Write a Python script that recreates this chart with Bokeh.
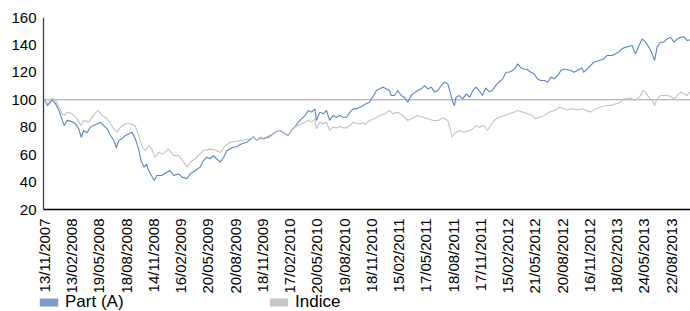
import math
from bokeh.plotting import figure
from bokeh.models import Range1d, Legend, LegendItem, FixedTicker, ColumnDataSource, LinearAxis
from bokeh.core.properties import value
from bokeh.embed import file_html
from bokeh.resources import INLINE

# x tick labels (one every 66 trading days)
tick_labels = ["13/11/2007", "13/02/2008", "19/05/2008", "18/08/2008", "14/11/2008",
               "16/02/2009", "20/05/2009", "20/08/2009", "18/11/2009", "17/02/2010",
               "20/05/2010", "19/08/2010", "18/11/2010", "15/02/2011", "17/05/2011",
               "18/08/2011", "17/11/2011", "15/02/2012", "21/05/2012", "20/08/2012",
               "16/11/2012", "18/02/2013", "24/05/2013", "22/08/2013"]
tick_step = 66

# Part (A): trading-day index and value
part_day = [0, 7, 19, 27, 35, 43, 48, 55, 67, 75, 83, 89, 95, 103, 111, 119, 128, 136, 144, 152,
            160, 168, 174, 180, 188, 196, 204, 212, 220, 228, 234, 241, 247, 253, 266, 272, 284, 296,
            304, 313, 325, 333, 345, 353, 365, 377, 385, 393, 401, 409, 417, 426, 434, 442, 454, 466,
            478, 490, 498, 506, 514, 522, 530, 542, 554, 566, 574, 582, 590, 598, 606, 615, 623, 631,
            639, 647, 655, 659, 667, 675, 683, 691, 699, 707, 715, 724, 732, 740, 748, 756, 764, 772,
            778, 787, 795, 804, 812, 820, 828, 836, 840, 848, 856, 864, 872, 880, 888, 896, 904, 913,
            921, 929, 937, 945, 953, 961, 969, 977, 984, 989, 993, 997, 1005, 1013, 1022, 1030, 1038,
            1045, 1053, 1061, 1069, 1077, 1085, 1093, 1101, 1110, 1118, 1126, 1134, 1142, 1146, 1154,
            1162, 1170, 1178, 1186, 1194, 1202, 1211, 1219, 1227, 1235, 1243, 1251, 1259, 1267, 1275,
            1283, 1291, 1302, 1306, 1315, 1323, 1331, 1343, 1355, 1363, 1375, 1383, 1391, 1399, 1408,
            1416, 1424, 1428, 1432, 1440, 1448, 1456, 1464, 1472, 1478, 1484, 1492, 1500, 1508, 1517,
            1525, 1533, 1541, 1549, 1557, 1563]
part_val = [100, 95.8, 100, 97, 92.2, 85, 81.2, 85, 84, 82.5, 78.8, 72.7, 77.6, 76, 80, 81.2, 82.5,
            83.7, 81, 78.8, 74, 70.3, 65, 70.3, 71.6, 74, 75, 76.4, 71.6, 64.2, 55.7, 50.9, 53, 48,
            41.1, 44.8, 44.8, 47.2, 48.4, 44.8, 46, 43.6, 42.4, 46, 48.4, 50.9, 55.7, 58.1, 57, 59.3,
            57, 54.5, 58.1, 63, 65, 66, 68, 69, 70.8, 73.2, 70.3, 72.3, 71.5, 72.7, 75.2, 77.6, 77,
            75.2, 74, 77.6, 80, 83.7, 86.2, 88.5, 92.2, 91, 93.4, 85, 91, 89.8, 92.2, 85, 88.5, 87.3,
            88.5, 87.3, 87.3, 91, 93.4, 93.4, 94.6, 95.8, 97, 98.2, 101.9, 106.8, 108, 109.2, 108,
            106.8, 103.1, 103.1, 106.8, 103.1, 101.9, 98.2, 103.1, 105, 106.8, 108, 110.4, 108, 109.2,
            105.6, 106.8, 110.4, 112.8, 111.6, 104.3, 98.2, 95.8, 101.9, 103.1, 100.7, 104.3, 101.9,
            106.8, 109.2, 106.8, 103.1, 108.6, 106, 106.8, 110.4, 112.8, 115.3, 120.1, 120.1, 121.3,
            123.8, 126.2, 123.3, 122.5, 121.9, 120.1, 118.9, 115.3, 114.1, 114.1, 112.8, 116.5, 115.3,
            117.7, 121.3, 122.5, 121.9, 121.3, 120.1, 121.3, 123.3, 120.1, 122.5, 125, 127.4, 128.6,
            129.8, 132.3, 132.3, 133.5, 134.7, 137.2, 138.4, 138.8, 139.6, 136, 133.5, 139.6, 144.4,
            142, 138.4, 133.5, 128.6, 138.4, 142, 142, 144.4, 145.6, 142, 144.4, 145.6, 146, 143.2,
            143.7]

# Indice: trading-day index and value
indice_day = [0, 7, 19, 27, 35, 43, 48, 55, 67, 79, 89, 95, 107, 119, 129, 140, 152, 160, 168, 176,
              184, 196, 208, 220, 228, 237, 245, 253, 260, 268, 276, 288, 300, 313, 325, 337, 345,
              353, 365, 377, 385, 393, 405, 417, 426, 438, 450, 462, 474, 486, 498, 506, 514, 522,
              530, 542, 554, 566, 574, 582, 590, 598, 606, 615, 623, 631, 639, 647, 655, 659, 667,
              675, 683, 691, 699, 707, 715, 724, 732, 740, 748, 756, 764, 772, 778, 787, 799, 812,
              824, 836, 844, 856, 868, 880, 892, 904, 917, 929, 941, 953, 965, 977, 984, 987, 993,
              1005, 1017, 1030, 1038, 1045, 1053, 1065, 1073, 1081, 1089, 1101, 1114, 1126, 1138,
              1146, 1158, 1170, 1182, 1190, 1198, 1211, 1223, 1235, 1247, 1255, 1267, 1279, 1291,
              1302, 1310, 1323, 1335, 1347, 1359, 1371, 1383, 1395, 1403, 1412, 1420, 1428, 1436,
              1444, 1450, 1456, 1464, 1472, 1478, 1484, 1492, 1500, 1508, 1517, 1525, 1533, 1541,
              1549, 1557, 1563]
indice_val = [100, 97, 101, 99.5, 94.6, 89.8, 88.6, 91, 89.8, 86.1, 81.2, 85, 83.7, 88.6, 92.2, 88.6,
              86, 82.5, 78.8, 76.4, 80, 82.5, 82.5, 81, 74, 65.5, 63, 67, 64, 58, 61.5, 60.5, 64,
              59.3, 59.3, 54.5, 50.9, 54.5, 57, 60.5, 63, 63.5, 64, 63, 61.5, 66.7, 69, 69.8, 70.3,
              70.8, 71.6, 72.7, 70.3, 72.8, 72, 73.5, 75.5, 77.8, 77.3, 75.5, 74.5, 77.8, 80, 81.2,
              82.5, 83.7, 85, 83.7, 86.1, 78.8, 83.7, 82.5, 83.7, 77.6, 80, 79.5, 80.5, 79.5, 79.5,
              81.2, 83.7, 82.5, 82.5, 83, 82, 84.9, 86.1, 88.5, 89.8, 92.2, 89.8, 91, 88.5, 84.9,
              86.8, 88.5, 87.3, 86.1, 84.9, 84.9, 86.8, 84.9, 77.6, 72.7, 75.2, 77.6, 76.4, 77.6, 79,
              81.2, 80, 81.2, 77.6, 81.2, 84.9, 87.3, 88.5, 89.8, 91, 92.2, 91, 89.8, 88.5, 86.1,
              87.3, 88.5, 91, 92.2, 94.6, 94, 92.6, 93.4, 92.6, 93.4, 92.6, 91, 93.4, 94.6, 95.8,
              95.8, 97, 98.2, 100.7, 100.7, 101.5, 99.5, 100.7, 103.1, 106.8, 105.6, 102, 99.5, 95.8,
              100.7, 103.1, 103.1, 103.1, 102.4, 100.7, 103.1, 105.6, 104.3, 103.1, 105.6]

y_ticks = [20, 40, 60, 80, 100, 120, 140, 160]
ref_level = 100

FONT = "Liberation Sans"

# ---- layout (page has no margin: Bokeh's template resets it) ----
W, H = 690, 311
AXIS_X_PX = 43          # x pixel of the value axis
FRAME_LEFT = 36         # frame starts a bit left so the legend swatch fits
PLOT_TOP, PLOT_BOTTOM = 17, 209   # pixels of y = 160 and y = 20
x_axis_start, x_end = -2.4, 1565.0
px_per_day = (W - AXIS_X_PX) / (x_end - x_axis_start)
x_start = x_axis_start - (AXIS_X_PX - FRAME_LEFT) / px_per_day
y_min, y_max = y_ticks[0], y_ticks[-1]
px_per_unit = (PLOT_BOTTOM - PLOT_TOP) / (y_max - y_min)
y_start = y_min - (H - PLOT_BOTTOM) / px_per_unit

p = figure(width=W, height=H, output_backend="svg", toolbar_location=None,
           x_range=Range1d(x_start, x_end), y_range=Range1d(y_start, y_max),
           x_axis_type=None, y_axis_type=None)
p.min_border_left = FRAME_LEFT
p.min_border_right = 0
p.min_border_top = PLOT_TOP
p.min_border_bottom = 0
p.outline_line_color = None
p.xgrid.visible = False
p.ygrid.visible = False

yaxis = LinearAxis(ticker=FixedTicker(ticks=y_ticks))
yaxis.major_tick_out = 0
yaxis.major_tick_in = 0
yaxis.minor_tick_out = 0
yaxis.minor_tick_in = 0
yaxis.axis_line_color = None
yaxis.major_label_standoff = 0
yaxis.major_label_text_font = FONT
yaxis.major_label_text_font_size = "15px"
yaxis.major_label_text_color = "#000000"
p.add_layout(yaxis, "left")

# reference line at 100
p.segment(x0=[x_axis_start], y0=[ref_level], x1=[x_end], y1=[ref_level],
          line_color="#A0A0A0", line_width=1)

# series
p.line(part_day, part_val, line_color="#5B84BF", line_width=1.1)
p.line(indice_day, indice_val, line_color="#C2C2C2", line_width=1.1)

# axis lines
p.segment(x0=[x_axis_start], y0=[y_min], x1=[x_axis_start], y1=[y_max],
          line_color="#404040", line_width=1.3)
p.segment(x0=[x_axis_start], y0=[y_min], x1=[x_end], y1=[y_min],
          line_color="#000000", line_width=1.5)

# category tick labels
xticks = [i * tick_step for i in range(len(tick_labels))]
p.text(x=xticks, y=[y_min] * len(xticks), text=tick_labels, angle=math.pi / 2,
       text_align="right", text_baseline="middle", y_offset=9,
       text_font=value(FONT), text_font_size="15px", text_color="#000000")

# legend with rectangular swatches (proxy quads without drawable extent)
nan = float("nan")
proxy = dict(left=[nan], right=[nan], top=[nan], bottom=[nan])
sw1 = p.quad(source=ColumnDataSource(proxy), left="left", right="right", top="top", bottom="bottom",
             fill_color="#7F9CC8", line_color=None)
sw2 = p.quad(source=ColumnDataSource(dict(proxy)), left="left", right="right", top="top",
             bottom="bottom", fill_color="#C6C6C6", line_color=None)

legend = Legend(items=[LegendItem(label="Part (A)", renderers=[sw1]),
                       LegendItem(label="Indice", renderers=[sw2])],
                orientation="horizontal", location=(1, -1),
                label_text_font=FONT, label_text_font_size="17px", label_text_color="#000000",
                glyph_width=23, glyph_height=10, label_standoff=5, spacing=0, label_width=202,
                label_height=17, padding=0, margin=0, border_line_color=None,
                background_fill_alpha=0)
p.add_layout(legend, "center")

open("out.html", "w").write(file_html(p, INLINE))
